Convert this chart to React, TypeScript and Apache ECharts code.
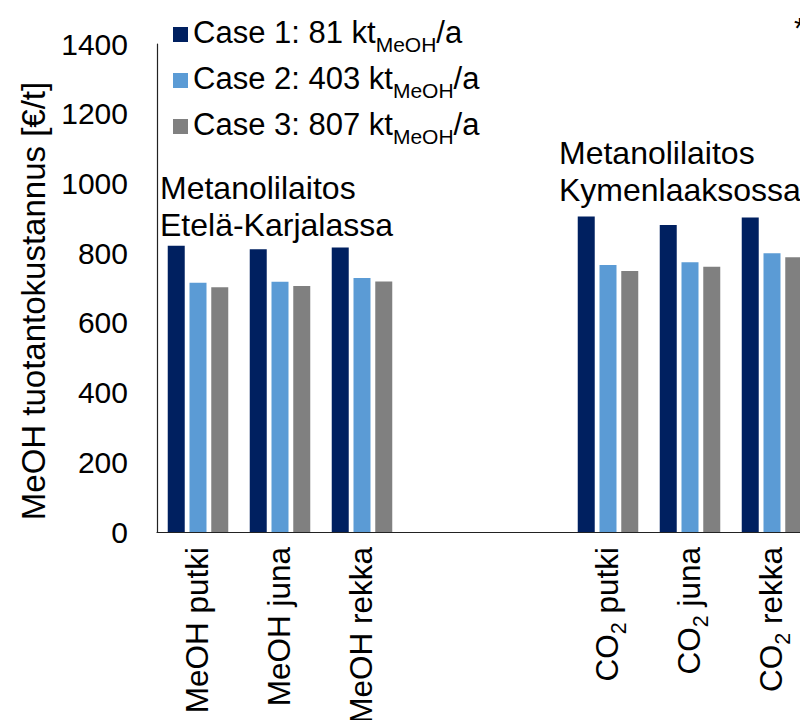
import React, { useEffect, useRef } from "react";
import * as echarts from "echarts";

const categories = ["MeOH putki", "MeOH juna", "MeOH rekka", "", "", "CO2 putki", "CO2 juna", "CO2 rekka"];
const seriesNames = ["Case 1: 81 kt_MeOH/a", "Case 2: 403 kt_MeOH/a", "Case 3: 807 kt_MeOH/a"];
const case1 = [821, 811, 816, null, null, 905, 881, 902];
const case2 = [715, 718, 729, null, null, 766, 774, 800];
const case3 = [702, 706, 719, null, null, 749, 761, 788];
const yTicks = { min: 0, max: 1400, interval: 200 };
const yAxisTitle = "MeOH tuotantokustannus [€/t]";
const groupLabels = [
  { lines: ["Metanolilaitos", "Etelä-Karjalassa"] },
  { lines: ["Metanolilaitos", "Kymenlaaksossa"] },
];
const colors = ["#002060", "#5B9BD5", "#808080"];

const FONT = "'Liberation Sans', Arial, Helvetica, sans-serif";

export default function App() {
  const ref = useRef<HTMLDivElement>(null);
  useEffect(() => {
    if (!ref.current) return;
    const chart = echarts.init(ref.current, null, { renderer: "svg" });
    const mkRich = (fs: number, sfs: number, lh: number, pad: number) => ({
      n: { fontSize: fs, fontFamily: FONT, color: "#000", lineHeight: lh, verticalAlign: "top" },
      s: { fontSize: sfs, fontFamily: FONT, color: "#000", lineHeight: sfs, verticalAlign: "top", padding: [pad, 0, 0, 0] },
    });
    const legendFmt = (name: string) => {
      const [a, rest] = name.split("_");
      const [sub, tail] = rest.split("/");
      return `{n|${a}}{s|${sub}}{n|/${tail}}`;
    };
    const xFmt = (v: string) => {
      if (v.startsWith("CO2")) return `{n|CO}{s|2}{n|${v.slice(3)}}`;
      return `{n|${v}}`;
    };
    const data = [case1, case2, case3];
    chart.setOption({
      animation: false,
      textStyle: { fontFamily: FONT },
      grid: { left: 157, right: -5, top: 44, bottom: 196, outerBoundsMode: "none", containLabel: false },
      legend: {
        orient: "vertical",
        left: 168,
        top: 12,
        itemWidth: 15,
        itemHeight: 15,
        itemGap: 8,
        icon: "rect",
        formatter: legendFmt,
        textStyle: { rich: mkRich(31, 21, 35, 17), fontSize: 31 },
        data: seriesNames,
      },
      xAxis: {
        type: "category",
        data: categories,
        axisLine: { show: true, lineStyle: { color: "#222", width: 1.2 } },
        axisTick: { show: false },
        axisLabel: {
          interval: 0,
          rotate: 90,
          margin: 15,
          formatter: xFmt,
          rich: mkRich(31.5, 21.5, 35, 17.5),
        },
      },
      yAxis: {
        type: "value",
        min: yTicks.min,
        max: yTicks.max,
        interval: yTicks.interval,
        splitLine: { show: false },
        axisLine: { show: true, lineStyle: { color: "#222", width: 1.2 } },
        axisTick: { show: false },
        axisLabel: {
          fontSize: 30,
          color: "#000",
          margin: 29,
          fontFamily: FONT,
          formatter: (v: number) => String(v),
        },
        name: yAxisTitle,
        nameLocation: "middle",
        nameRotate: 90,
        nameGap: 102,
        nameTextStyle: { fontSize: 33, color: "#000", fontFamily: FONT, padding: [0, 26, 0, 0] },
      },
      series: data.map((d, i) => ({
        type: "bar",
        name: seriesNames[i],
        data: d,
        barWidth: 17,
        barGap: "28%",
        itemStyle: { color: colors[i] },
      })),
      graphic: [
        {
          type: "text",
          left: 160,
          top: 169,
          style: {
            text: groupLabels[0].lines.join("\n"),
            fontSize: 32,
            fontFamily: FONT,
            fill: "#000",
            align: "center",
            lineHeight: 37,
            width: 236,
          },
        },
        {
          type: "text",
          left: 559,
          top: 134,
          style: {
            text: groupLabels[1].lines.join("\n"),
            fontSize: 32,
            fontFamily: FONT,
            fill: "#000",
            align: "center",
            lineHeight: 37,
            width: 248,
          },
        },
        {
          type: "text",
          left: 794,
          top: 12,
          style: { text: "*", fontSize: 30, fontFamily: FONT, fill: "#000" },
        },
      ],
    });
    return () => chart.dispose();
  }, []);
  return <div ref={ref} style={{ width: 808, height: 728, margin: -8 }} />;
}
